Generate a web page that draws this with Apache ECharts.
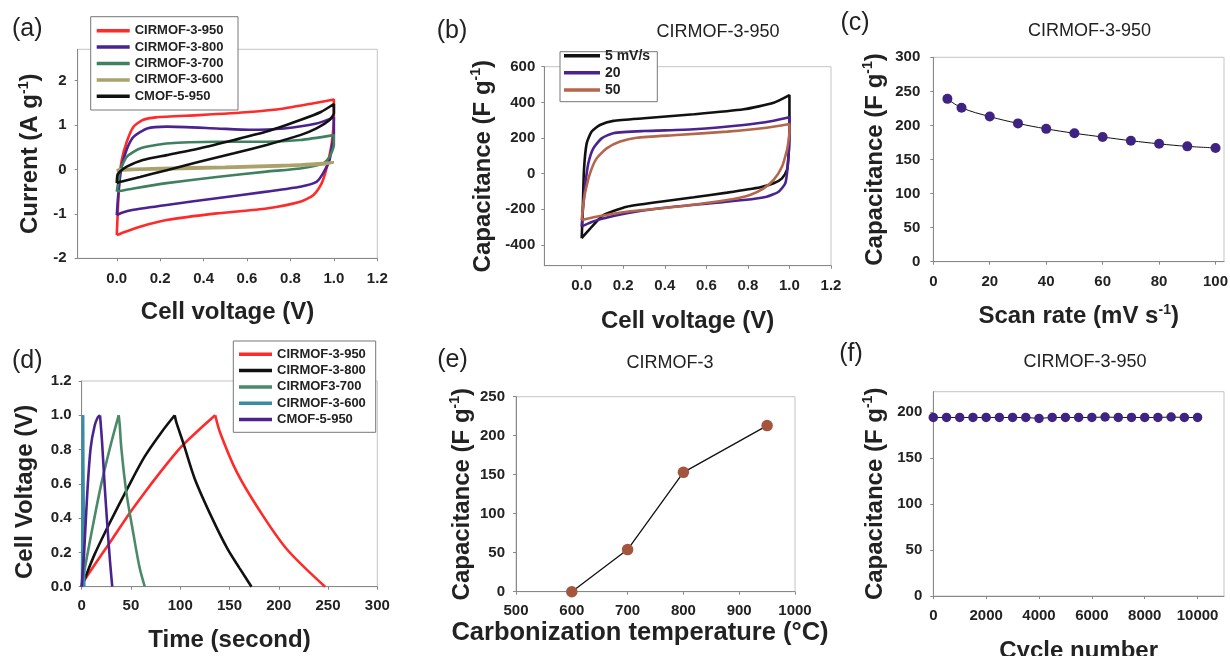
<!DOCTYPE html>
<html>
<head>
<meta charset="utf-8">
<script src="https://cdn.jsdelivr.net/npm/echarts@6/dist/echarts.min.js"></script>
<style>
    html, body { margin: 0; padding: 0; background: #fff; }
    #chart { width: 1230px; height: 656px; }
</style>
</head>
<body>
<div id="chart"></div>
<script>
// (a) CV loops at 10 mV/s, [cell voltage V, current A/g]
let cvA950 = [[0, -1.48], [0.005, -0.9], [0.012, -0.25], [0.023, 0.21], [0.046, 0.62], [0.077, 0.96], [0.12, 1.11], [0.18, 1.17], [0.38, 1.22], [0.61, 1.29], [0.77, 1.37], [0.92, 1.5], [1.0, 1.57], [1.0, 1.2], [0.99, 0.58], [0.975, 0.21], [0.96, -0.09], [0.94, -0.35], [0.905, -0.58], [0.845, -0.73], [0.69, -0.88], [0.46, -0.99], [0.23, -1.14], [0.107, -1.29], [0.03, -1.42], [0, -1.48]];
let cvA800 = [[0, -1.03], [0.008, -0.5], [0.02, 0], [0.03, 0.21], [0.05, 0.5], [0.077, 0.73], [0.14, 0.92], [0.23, 0.96], [0.46, 0.92], [0.61, 0.89], [0.77, 0.92], [0.92, 1.03], [1.0, 1.17], [1.0, 0.8], [0.99, 0.5], [0.98, 0.21], [0.95, -0.09], [0.92, -0.28], [0.845, -0.39], [0.69, -0.5], [0.46, -0.65], [0.23, -0.8], [0.077, -0.91], [0.02, -0.98], [0, -1.03]];
let cvA700 = [[0, -0.5], [0.008, -0.25], [0.015, -0.02], [0.046, 0.28], [0.107, 0.47], [0.23, 0.58], [0.46, 0.62], [0.69, 0.62], [0.845, 0.66], [1.0, 0.77], [1.0, 0.55], [0.98, 0.28], [0.95, 0.13], [0.845, 0.02], [0.69, -0.05], [0.46, -0.17], [0.23, -0.31], [0.077, -0.43], [0, -0.5]];
let cvA600 = [[0, -0.03], [0.01, 0.0], [0.2, 0.03], [0.5, 0.06], [0.8, 0.1], [1.0, 0.16], [0.95, 0.11], [0.7, 0.06], [0.4, 0.02], [0.1, -0.01], [0, -0.03]];
let cvAC5 = [[0, -0.31], [0.003, -0.13], [0.015, -0.05], [0.046, 0.06], [0.12, 0.21], [0.23, 0.32], [0.38, 0.47], [0.54, 0.66], [0.69, 0.85], [0.845, 1.11], [0.94, 1.29], [1.0, 1.47], [1.0, 1.26], [0.98, 1.11], [0.92, 0.92], [0.845, 0.77], [0.69, 0.55], [0.54, 0.36], [0.38, 0.17], [0.23, -0.02], [0.107, -0.17], [0.015, -0.28], [0, -0.31]];

// (b) CIRMOF-3-950 at three scan rates, [V, F/g]
let cvB5 = [[0, -362], [0.005, -204], [0.011, 21], [0.024, 170], [0.048, 236], [0.088, 273], [0.152, 296], [0.3, 311], [0.54, 333], [0.78, 361], [0.924, 398], [1.0, 441], [1.0, 300], [0.998, 150], [0.994, 77], [0.988, 21], [0.964, -26], [0.924, -54], [0.86, -76], [0.7, -106], [0.54, -132], [0.378, -157], [0.217, -185], [0.104, -232], [0.056, -288], [0.02, -335], [0, -362]];
let cvB20 = [[0, -297], [0.006, -200], [0.016, -73], [0.032, 58], [0.056, 142], [0.096, 198], [0.152, 227], [0.3, 239], [0.54, 249], [0.78, 273], [0.924, 297], [1.0, 316], [1.0, 230], [0.998, 151], [0.99, 21], [0.98, -54], [0.948, -101], [0.89, -129], [0.78, -148], [0.62, -166], [0.378, -194], [0.217, -222], [0.088, -256], [0.03, -280], [0, -297]];
let cvB50 = [[0, -260], [0.006, -190], [0.016, -110], [0.04, 2], [0.072, 86], [0.12, 142], [0.185, 180], [0.265, 202], [0.458, 217], [0.7, 236], [0.89, 258], [1.0, 279], [1.0, 230], [0.995, 180], [0.988, 133], [0.964, 39], [0.924, -35], [0.876, -82], [0.81, -119], [0.7, -148], [0.458, -185], [0.217, -213], [0.088, -237], [0, -260]];

// (c) capacitance vs scan rate
let scanRates = [5, 10, 20, 30, 40, 50, 60, 70, 80, 90, 100];
let capScan = [239, 226, 213, 203, 195, 188.5, 183, 177.6, 173, 169.3, 167];

// (d) galvanostatic charge / discharge, [time s, V]
let gcd950Up = [[0, 0], [3, 0.04], [30, 0.27], [50, 0.44], [64, 0.55], [80, 0.67], [100, 0.81], [118, 0.91], [135.5, 1.0]];
let gcd950Down = [[135.5, 1.0], [140.4, 0.9], [157.3, 0.67], [181, 0.44], [208, 0.22], [247, 0]];
let gcd800Up = [[0, 0], [2, 0.03], [13.2, 0.19], [30, 0.39], [47, 0.58], [64, 0.76], [80.8, 0.9], [94.4, 1.0]];
let gcd800Down = [[94.4, 1.0], [96, 0.96], [103, 0.84], [114.7, 0.63], [131.5, 0.41], [148, 0.22], [160, 0.11], [172.3, 0]];
let gcd700Up = [[0, 0], [1, 0.04], [9.8, 0.31], [19.9, 0.6], [30, 0.84], [37.5, 1.0]];
let gcd700Down = [[37.5, 1.0], [38.5, 0.95], [40.2, 0.81], [45.3, 0.55], [52.1, 0.32], [58.8, 0.11], [64, 0]];
let gcd600Up = [[0.3, 0], [1.3, 1.0]];
let gcd600Down = [[1.3, 1.0], [2.6, 0]];
let gcdC5Up = [[0, 0], [3, 0.26], [5.7, 0.55], [9.1, 0.81], [13.2, 0.94], [16.5, 0.99], [18.6, 1.0]];
let gcdC5Down = [[18.6, 1.0], [20.6, 0.85], [23.3, 0.59], [26, 0.36], [28.7, 0.15], [31, 0]];

// (e) capacitance vs carbonization temperature
let temps = [600, 700, 800, 950];
let capTemp = [0, 54, 153, 213];

// (f) cycling
let cycles = [0, 500, 1000, 1500, 2000, 2500, 3000, 3500, 4000, 4500, 5000, 5500, 6000, 6500, 7000, 7500, 8000, 8500, 9000, 9500, 10000];
let capCycle = [194, 194, 194, 194, 194, 194, 194, 194, 193, 194, 194, 194, 194, 194.5, 194, 194, 194, 194, 194.5, 194, 194];

// tick values
let ticksV = [0, 0.2, 0.4, 0.6, 0.8, 1.0, 1.2];
let ticksA = [-2, -1, 0, 1, 2];
let ticksB = [-400, -200, 0, 200, 400, 600];
let ticksScan = [0, 20, 40, 60, 80, 100];
let ticksCap300 = [0, 50, 100, 150, 200, 250, 300];
let ticksTime = [0, 50, 100, 150, 200, 250, 300];
let ticksVd = [0, 0.2, 0.4, 0.6, 0.8, 1.0, 1.2];
let ticksTemp = [500, 600, 700, 800, 900, 1000];
let ticksCap250 = [0, 50, 100, 150, 200, 250];
let ticksCycle = [0, 2000, 4000, 6000, 8000, 10000];
let ticksCap200 = [0, 50, 100, 150, 200];

const FONT = '"Liberation Sans", Arial, sans-serif';
const RED = '#ff2a2a', PURPLE = '#4a2390', GREEN = '#3e8060', OLIVE = '#aaa26a', BLACK = '#111111';
const BROWN = '#b5654a', TEAL = '#3a8ca5', GREEN_D = '#4a8a68', DOT = '#3f2382', DOT_E = '#a3553e';

let rich = size => ({
    b: { fontSize: size, fontWeight: 'bold', fontFamily: FONT, color: '#222', lineHeight: size + 4 },
    s: { fontSize: Math.round(size * 0.6), fontWeight: 'bold', fontFamily: FONT, color: '#222', verticalAlign: 'top', lineHeight: Math.round(size * 0.6) }
});

let plain = v => String(v);
let fixed1 = v => v.toFixed(1);

// name: axis title, gap: nameGap, margin: label margin
let axis = (grid, min, max, ticks, name, gap, margin, fmt, namePad, nameSize) => ({
    type: 'value',
    gridIndex: grid,
    min: min,
    max: max,
    axisLine: { show: true, onZero: false, lineStyle: { color: '#888', width: 1 } },
    axisTick: { show: true, length: 3, customValues: ticks, lineStyle: { color: '#888' } },
    axisLabel: {
        customValues: ticks,
        formatter: fmt || plain,
        margin: margin,
        fontFamily: FONT,
        fontWeight: 'bold',
        fontSize: 15,
        color: '#222'
    },
    splitLine: { show: false },
    name: name,
    nameLocation: 'middle',
    nameGap: gap,
    nameTextStyle: { rich: rich(nameSize || 24), padding: namePad || 0 }
});

let grids = [
    { left: 77.7, top: 49.3, width: 299.6, height: 209 },
    { left: 544.3, top: 66.7, width: 286.7, height: 199 },
    { left: 933.3, top: 57.3, width: 290.7, height: 204.4 },
    { left: 81.7, top: 381, width: 295.6, height: 205.7 },
    { left: 516, top: 396.7, width: 279, height: 195 },
    { left: 933.3, top: 391.7, width: 290.7, height: 204.3 }
].map(g => ({ ...g, show: true, borderColor: '#c4c4c4', borderWidth: 1, containLabel: false, outerBoundsMode: 'none' }));

let xAxis = [
    axis(0, -0.18, 1.2, ticksV, '{b|Cell voltage (V)}', 40, 13, fixed1),
    axis(1, -0.18, 1.2, ticksV, '{b|Cell voltage (V)}', 42, 13, fixed1),
    axis(2, 0, 103, ticksScan, '{b|Scan rate (mV s}{s|-1}{b|)}', 41, 13),
    axis(3, 0, 300, ticksTime, '{b|Time (second)}', 40, 12),
    axis(4, 500, 1000, ticksTemp, '{b|Carbonization temperature (°C)}', 26, 12, null, [0, 31, 0, 0], 25.5),
    axis(5, 0, 11000, ticksCycle, '{b|Cycle number}', 41, 12)
];

let yAxis = [
    axis(0, -2, 2.7, ticksA, '{b|Current (A g}{s|-1}{b|)}', 33, 11),
    axis(1, -516, 600, ticksB, '{b|Capacitance (F g}{s|-1}{b|)}', 47, 9),
    axis(2, 0, 300, ticksCap300, '{b|Capacitance (F g}{s|-1}{b|)}', 44, 13),
    axis(3, 0, 1.2, ticksVd, '{b|Cell Voltage (V)}', 42, 10, fixed1, [0, 16, 0, 0]),
    axis(4, 0, 250, ticksCap250, '{b|Capacitance (F g}{s|-1}{b|)}', 40, 11),
    axis(5, 0, 222, ticksCap200, '{b|Capacitance (F g}{s|-1}{b|)}', 44, 11)
];

let curve = (name, idx, data, color, smooth) => ({
    name: name,
    type: 'line',
    xAxisIndex: idx,
    yAxisIndex: idx,
    data: data,
    symbol: 'none',
    smooth: smooth,
    lineStyle: { color: color, width: 2.6 },
    itemStyle: { color: color }
});

let dots = (name, idx, xs, ys, color, size, lineW) => ({
    name: name,
    type: 'line',
    xAxisIndex: idx,
    yAxisIndex: idx,
    data: xs.map((x, i) => [x, ys[i]]),
    symbol: 'circle',
    symbolSize: size,
    smooth: idx === 2 ? 0.4 : false,
    lineStyle: { color: '#111', width: lineW },
    itemStyle: { color: color, borderWidth: 0 },
    z: 3
});

let series = [
    curve('a:CIRMOF-3-950', 0, cvA950, RED, 0.2),
    curve('a:CIRMOF-3-800', 0, cvA800, PURPLE, 0.2),
    curve('a:CIRMOF-3-700', 0, cvA700, GREEN, 0.2),
    curve('a:CIRMOF-3-600', 0, cvA600, OLIVE, 0.2),
    curve('a:CMOF-5-950', 0, cvAC5, BLACK, 0.2),

    curve('b:5 mV/s', 1, cvB5, BLACK, 0.2),
    curve('b:20', 1, cvB20, PURPLE, 0.2),
    curve('b:50', 1, cvB50, BROWN, 0.2),

    dots('c', 2, scanRates, capScan, DOT, 10, 1),

    curve('d:CIRMOF-3-950', 3, gcd950Up, RED, 0.3),
    curve('d:CIRMOF-3-950', 3, gcd950Down, RED, 0.3),
    curve('d:CIRMOF-3-800', 3, gcd800Up, BLACK, 0.3),
    curve('d:CIRMOF-3-800', 3, gcd800Down, BLACK, 0.3),
    curve('d:CIRMOF3-700', 3, gcd700Up, GREEN_D, 0.3),
    curve('d:CIRMOF3-700', 3, gcd700Down, GREEN_D, 0.3),
    curve('d:CIRMOF-3-600', 3, gcd600Up, TEAL, false),
    curve('d:CIRMOF-3-600', 3, gcd600Down, TEAL, false),
    curve('d:CMOF-5-950', 3, gcdC5Up, PURPLE, 0.3),
    curve('d:CMOF-5-950', 3, gcdC5Down, PURPLE, 0.3),

    dots('e', 4, temps, capTemp, DOT_E, 11.5, 1.3),
    dots('f', 5, cycles, capCycle, DOT, 9.5, 1)
];

let legendBase = {
    orient: 'vertical',
    padding: 0,
    icon: 'rect',
    itemHeight: 3.5,
    selectedMode: false,
    formatter: n => n.slice(2),
    textStyle: { fontFamily: FONT, fontWeight: 'bold', fontSize: 13, color: '#222' },
    z: 5
};

let legend = [
    { ...legendBase, left: 96.7, top: 24.2, itemWidth: 33, itemGap: 3.4,
      data: ['a:CIRMOF-3-950', 'a:CIRMOF-3-800', 'a:CIRMOF-3-700', 'a:CIRMOF-3-600', 'a:CMOF-5-950'] },
    { ...legendBase, left: 564, top: 48.7, itemWidth: 36, itemGap: 3.1,
      textStyle: { ...legendBase.textStyle, fontSize: 14 },
      data: ['b:5 mV/s', 'b:20', 'b:50'] },
    { ...legendBase, left: 239, top: 347.8, itemWidth: 33, itemGap: 3.3,
      data: ['d:CIRMOF-3-950', 'd:CIRMOF-3-800', 'd:CIRMOF3-700', 'd:CIRMOF-3-600', 'd:CMOF-5-950'] }
];

let box = (x, y, w, h) => ({
    type: 'rect', z: 3,
    shape: { x: x, y: y, width: w, height: h },
    style: { fill: '#fff', stroke: '#777', lineWidth: 1 }
});

let label = (text, x, y, size) => ({
    type: 'text', z: 5, x: x, y: y,
    style: { text: text, fontFamily: FONT, fontSize: size, fill: '#222', align: 'center', verticalAlign: 'middle' }
});

let graphic = [
    box(90.7, 16.7, 147.3, 93.3),
    box(560, 51.7, 97.3, 50),
    box(233.3, 341, 142.4, 91.3),
    label('(a)', 27.3, 29, 25),
    label('(b)', 452, 31, 25),
    label('(c)', 855, 23, 25),
    label('(d)', 27.3, 361, 25),
    label('(e)', 452.5, 360, 25),
    label('(f)', 851, 354, 25),
    label('CIRMOF-3-950', 718, 31.7, 18),
    label('CIRMOF-3-950', 1089.5, 30.7, 18),
    label('CIRMOF-3', 670, 363.3, 18),
    label('CIRMOF-3-950', 1085, 361.7, 18)
];

let mychart = echarts.init(document.getElementById('chart'));
mychart.setOption({
    animation: false,
    backgroundColor: '#fff',
    grid: grids,
    xAxis: xAxis,
    yAxis: yAxis,
    series: series,
    legend: legend,
    graphic: graphic
});
</script>
</body>
</html>
